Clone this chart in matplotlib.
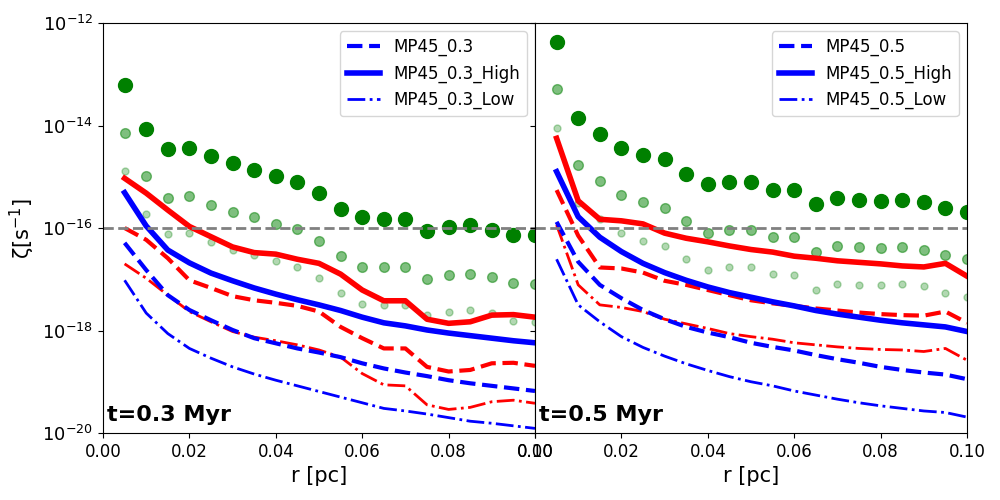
import numpy as np
from matplotlib import pyplot as plt

r = [0.005, 0.01, 0.015, 0.02, 0.025, 0.03, 0.035, 0.04, 0.045, 0.05,
     0.055, 0.06, 0.065, 0.07, 0.075, 0.08, 0.085, 0.09, 0.095, 0.1]

# log10 of zeta [s^-1]
# t = 0.3 Myr
green_big_03 = [-13.21, -14.06, -14.46, -14.43, -14.60, -14.74, -14.86, -14.99, -15.11, -15.32,
                -15.62, -15.79, -15.83, -15.83, -16.06, -15.99, -15.95, -16.03, -16.14, -16.13]
green_mid_03 = [-14.15, -14.99, -15.42, -15.38, -15.56, -15.69, -15.79, -15.92, -16.01, -16.26,
                -16.55, -16.76, -16.77, -16.77, -17.00, -16.92, -16.90, -16.96, -17.08, -17.09]
green_small_03 = [-14.88, -15.73, -16.12, -16.10, -16.28, -16.42, -16.53, -16.65, -16.77, -16.98,
                  -17.26, -17.48, -17.50, -17.50, -17.69, -17.63, -17.60, -17.66, -17.81, -17.83]
red_high_03 = [-15.03, -15.32, -15.65, -15.97, -16.17, -16.37, -16.48, -16.51, -16.61, -16.69,
               -16.90, -17.21, -17.42, -17.42, -17.78, -17.86, -17.83, -17.70, -17.69, -17.74]
blue_high_03 = [-15.31, -15.96, -16.43, -16.68, -16.88, -17.03, -17.17, -17.29, -17.40, -17.50,
                -17.61, -17.74, -17.85, -17.91, -17.99, -18.05, -18.10, -18.15, -18.20, -18.24]
red_mid_03 = [-16.00, -16.23, -16.59, -17.02, -17.17, -17.33, -17.41, -17.46, -17.52, -17.63,
              -17.93, -18.15, -18.35, -18.35, -18.71, -18.80, -18.77, -18.64, -18.63, -18.69]
blue_mid_03 = [-16.29, -16.82, -17.31, -17.60, -17.80, -17.99, -18.15, -18.25, -18.35, -18.43,
               -18.52, -18.64, -18.74, -18.82, -18.89, -18.97, -19.03, -19.08, -19.13, -19.18]
red_low_03 = [-16.70, -16.98, -17.31, -17.63, -17.83, -18.02, -18.13, -18.20, -18.28, -18.38,
              -18.52, -18.84, -19.06, -19.08, -19.45, -19.54, -19.50, -19.39, -19.36, -19.42]
blue_low_03 = [-17.02, -17.66, -18.06, -18.35, -18.54, -18.71, -18.85, -18.97, -19.08, -19.19,
               -19.30, -19.41, -19.52, -19.57, -19.63, -19.70, -19.77, -19.81, -19.86, -19.91]

# t = 0.5 Myr
green_big_05 = [-12.38, -13.86, -14.17, -14.44, -14.58, -14.66, -14.95, -15.14, -15.10, -15.11,
                -15.25, -15.25, -15.53, -15.42, -15.45, -15.47, -15.45, -15.49, -15.60, -15.69]
green_mid_05 = [-13.29, -14.78, -15.09, -15.36, -15.49, -15.60, -15.87, -16.09, -16.03, -16.03,
                -16.18, -16.18, -16.47, -16.35, -16.38, -16.39, -16.38, -16.42, -16.53, -16.61]
green_small_05 = [-14.04, -15.51, -15.82, -16.10, -16.25, -16.35, -16.61, -16.81, -16.76, -16.77,
                  -16.90, -16.92, -17.20, -17.10, -17.12, -17.12, -17.10, -17.13, -17.26, -17.35]
red_high_05 = [-14.25, -15.47, -15.83, -15.86, -15.92, -16.10, -16.20, -16.27, -16.35, -16.42,
               -16.47, -16.55, -16.59, -16.64, -16.67, -16.70, -16.74, -16.76, -16.69, -16.94]
blue_high_05 = [-14.90, -15.78, -16.18, -16.46, -16.69, -16.87, -17.02, -17.15, -17.26, -17.35,
                -17.44, -17.52, -17.61, -17.68, -17.74, -17.80, -17.85, -17.89, -17.93, -18.02]
red_mid_05 = [-15.26, -16.15, -16.77, -16.79, -16.87, -17.03, -17.11, -17.21, -17.31, -17.41,
              -17.47, -17.52, -17.57, -17.61, -17.65, -17.68, -17.70, -17.71, -17.63, -17.85]
blue_mid_05 = [-15.88, -16.66, -17.11, -17.37, -17.60, -17.78, -17.93, -18.04, -18.13, -18.24,
               -18.32, -18.39, -18.48, -18.56, -18.63, -18.71, -18.77, -18.82, -18.86, -18.95]
red_low_05 = [-15.94, -17.11, -17.50, -17.55, -17.63, -17.78, -17.87, -17.96, -18.06, -18.12,
              -18.17, -18.24, -18.28, -18.32, -18.35, -18.37, -18.38, -18.41, -18.35, -18.58]
blue_low_05 = [-16.61, -17.50, -17.83, -18.12, -18.33, -18.50, -18.65, -18.78, -18.90, -19.00,
               -19.08, -19.18, -19.26, -19.34, -19.41, -19.47, -19.52, -19.57, -19.60, -19.69]

zeta_ref = 1e-16


def draw_panel(ax, tag, big, mid, small, rh, bh, rm, bm, rl, bl, time_label):
    # green points (three scaled versions)
    ax.plot(r, 10**np.array(big), 'o', color='green', ms=10)
    ax.plot(r, 10**np.array(mid), 'o', color='green', ms=7, alpha=0.5)
    ax.plot(r, 10**np.array(small), 'o', color='green', ms=5, alpha=0.3)
    # red lines
    ax.plot(r, 10**np.array(rm), '--', color='red', lw=3)
    ax.plot(r, 10**np.array(rh), '-', color='red', lw=4)
    ax.plot(r, 10**np.array(rl), '-.', color='red', lw=2)
    # blue lines (go in the legend)
    ax.plot(r, 10**np.array(bm), '--', color='blue', lw=3, label='MP45_' + tag)
    ax.plot(r, 10**np.array(bh), '-', color='blue', lw=4, label='MP45_' + tag + '_High')
    ax.plot(r, 10**np.array(bl), '-.', color='blue', lw=2, label='MP45_' + tag + '_Low')
    ax.axhline(zeta_ref, color='gray', ls='--', lw=2)
    ax.set_yscale('log')
    ax.set_xlim(0, 0.1)
    ax.set_ylim(1e-20, 1e-12)
    ax.set_yticks([1e-20, 1e-18, 1e-16, 1e-14, 1e-12])
    ax.minorticks_off()
    ax.tick_params(labelsize=12)
    ax.set_xlabel('r [pc]', fontsize=15)
    ax.legend(loc='upper right', fontsize=12)
    ax.text(0.01, 0.02, time_label, transform=ax.transAxes, fontsize=16,
            fontweight='bold', va='bottom', ha='left')


def main():
    fig, axes = plt.subplots(1, 2, figsize=(10, 5), sharey=True)
    fig.subplots_adjust(left=0.103, right=0.967, top=0.954, bottom=0.134, wspace=0)

    draw_panel(axes[0], '0.3', green_big_03, green_mid_03, green_small_03,
               red_high_03, blue_high_03, red_mid_03, blue_mid_03,
               red_low_03, blue_low_03, 't=0.3 Myr')
    draw_panel(axes[1], '0.5', green_big_05, green_mid_05, green_small_05,
               red_high_05, blue_high_05, red_mid_05, blue_mid_05,
               red_low_05, blue_low_05, 't=0.5 Myr')

    axes[0].set_ylabel('ζ[s$^{-1}$]', fontsize=15)
    axes[0].tick_params(axis='y', labelsize=13)
    fig.savefig('out.png', dpi=100)


if __name__ == "__main__":
    main()
